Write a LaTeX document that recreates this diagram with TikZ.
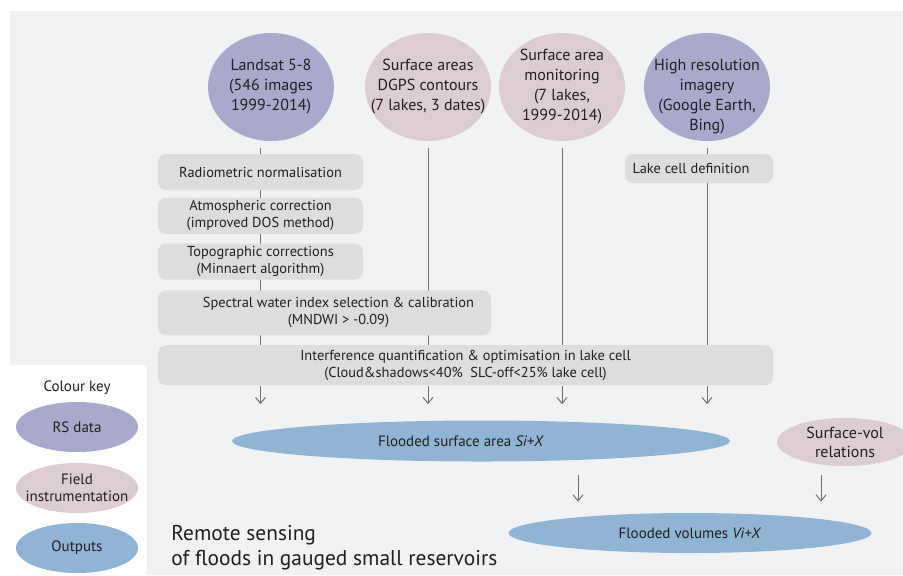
\documentclass[tikz,border=0pt]{standalone}
\usepackage{fontspec}
\setmainfont{PT Sans}
\usepackage{tikz}
\usetikzlibrary{positioning,arrows.meta,shapes.geometric}
\definecolor{panelgrey}{RGB}{241,242,244}
\definecolor{boxgrey}{RGB}{220,221,222}
\definecolor{rslav}{RGB}{168,169,205}
\definecolor{fieldpink}{RGB}{221,204,209}
\definecolor{outblue}{RGB}{143,180,212}
\definecolor{wiregrey}{RGB}{112,112,114}
\definecolor{inkgrey}{RGB}{35,31,32}
\pgfdeclarelayer{back}
\pgfdeclarelayer{wires}
\pgfsetlayers{back,wires,main}

\begin{document}
\begin{tikzpicture}[
  x=0.5pt, y=-0.5pt,
  text=inkgrey,
  circtext/.style={align=center, font=\fontsize{8}{10}\selectfont, inner sep=0pt},
  keytext/.style={align=center, font=\fontsize{7.5}{8.5}\selectfont, inner sep=0pt},
  rsdata/.style={ellipse, fill=rslav, inner sep=0pt, minimum width=63pt, minimum height=54pt},
  field/.style={ellipse, fill=fieldpink, inner sep=0pt, minimum width=63pt, minimum height=54pt},
  output/.style={ellipse, fill=outblue, inner sep=0pt, align=center, font=\fontsize{7.5}{8.5}\selectfont},
  stepbox/.style={rectangle, fill=boxgrey, rounded corners=4pt, align=center, font=\fontsize{7.2}{8.5}\selectfont, inner sep=0pt},
  wire/.style={draw=wiregrey, line width=0.5pt},
  line/.style={draw=wiregrey, line width=0.5pt, -{Straight Barb[length=3pt,width=5pt]}}
]
  \useasboundingbox (0,0) rectangle (903,575);
  \begin{pgfonlayer}{back}
    \fill[panelgrey] (10,11) -- (903,11) -- (903,575) -- (147,575) -- (147,365) -- (10,365) -- cycle;
  \end{pgfonlayer}

  % Nodes
  \node[rsdata, label={[circtext]center:{Landsat 5-8\\(546 images\\1999-2014)}}] (landsat) at (271,87) {};
  \node[field, label={[circtext]center:{Surface areas\\DGPS contours\\(7 lakes, 3 dates)}}] (dgps) at (428,87) {};
  \node[field, label={[circtext]center:{Surface area\\monitoring\\(7 lakes,\\1999-2014)}}] (monit) at (562,87) {};
  \node[rsdata, label={[circtext, yshift=-5pt]center:{High resolution\\imagery\\(Google Earth,\\Bing)}}] (hires) at (707,87) {};

  \node[stepbox, minimum width=102.5pt, minimum height=18pt] (radio) at (260.5,172) {Radiometric normalisation};
  \node[stepbox, minimum width=102.5pt, minimum height=18pt, below=3.5pt of radio] (atmo) {Atmospheric correction\\(improved DOS method)};
  \node[stepbox, minimum width=102.5pt, minimum height=18pt, below=4.5pt of atmo] (topo) {Topographic corrections\\(Minnaert algorithm)};
  \node[stepbox, minimum width=166.5pt, minimum height=22.5pt, anchor=north west, below right=5pt and 0pt of topo.south west] (spectral) {\hspace*{14pt}Spectral water index selection \& calibration\\\hspace*{14pt}(MNDWI > -0.09)};
  \node[stepbox, minimum width=307.5pt, minimum height=20pt, anchor=north west, below right=4.5pt and 0pt of spectral.south west] (interf) {Interference quantification \& optimisation in lake cell\\(Cloud\&shadows<40\%\ \ SLC-off<25\% lake cell)};
  \node[stepbox, minimum width=74pt, minimum height=14.5pt] (lakecell) at (699,168.5) {Lake cell definition\hspace*{8pt}};

  \node[output, minimum width=249pt, minimum height=20.5pt] (flood) at (481,441) {Flooded surface area \textit{Si+X}\hspace*{20pt}};
  \node[field, minimum width=68pt, minimum height=24pt, label={[keytext, font=\fontsize{8}{9.5}\selectfont]center:{Surface-vol\\relations}}] (svol) at (845,442) {};
  \node[output, minimum width=181.5pt, minimum height=20pt] (vol) at (690,533) {Flooded volumes \textit{Vi+X}};

  \node[anchor=west, align=left, inner sep=0pt, font=\fontsize{10.7}{12.5}\selectfont] (title) at (171,548) {Remote sensing\\of floods in gauged small reservoirs};

  % Colour key
  \node[keytext] (keyhead) at (77,388) {Colour key};
  \node[rsdata, minimum width=61pt, minimum height=25pt, label={[keytext]center:RS data}] (keyrs) at (77,427) {};
  \node[field, minimum width=61pt, minimum height=25pt, label={[keytext]center:{Field\\instrumentation}}] (keyfield) at (77,488) {};
  \node[output, minimum width=61pt, minimum height=25pt] (keyout) at (77,548) {Outputs};

  % Wires behind the boxes
  \begin{pgfonlayer}{wires}
    \path[wire, shorten <=3.5pt] (radio.north |- landsat.south) -- (radio.north |- interf.north);
    \path[wire, shorten <=3.5pt] (dgps.south) -- (dgps.south |- interf.north);
    \path[wire, shorten <=3.5pt] (monit.south) -- (monit.south |- interf.north);
    \path[wire, shorten <=3.5pt] (hires.south) -- (hires.south |- interf.north);
  \end{pgfonlayer}

  % Arrows
  \path[line, shorten >=8pt] (radio.south |- interf.south) -- (radio.south |- flood.north);
  \path[line, shorten >=8pt] (dgps.south |- interf.south) -- (dgps.south |- flood.north);
  \path[line, shorten >=8pt] (monit.south |- interf.south) -- (monit.south |- flood.north);
  \path[line, shorten >=8pt] (hires.south |- interf.south) -- (hires.south |- flood.north);

  \coordinate (fromflood) at ([xshift=48.5pt]flood.south);
  \coordinate (fromsvol) at ([xshift=-12pt]svol.south);
  \path[line, shorten <=6.5pt, shorten >=5.5pt] (fromflood) -- (fromflood |- vol.north);
  \path[line, shorten <=4.5pt, shorten >=5.5pt] (fromsvol) -- (fromsvol |- vol.north);

\end{tikzpicture}
\end{document}
